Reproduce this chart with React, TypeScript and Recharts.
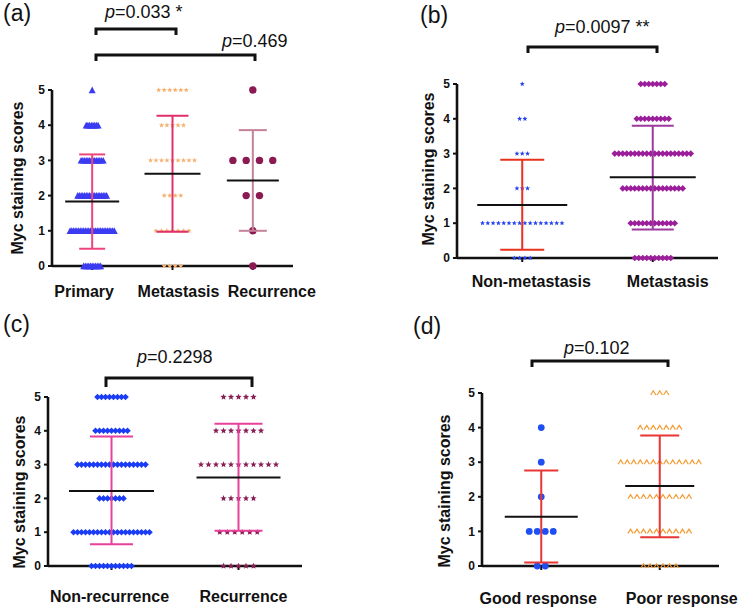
import React from 'react';
import { ScatterChart, Scatter, XAxis, YAxis, ReferenceLine } from 'recharts';

const FONT = "Arial, 'Liberation Sans', Helvetica, sans-serif";
const scoreTicks = [0, 1, 2, 3, 4, 5];

// (a) number of cases at score 0..5
const aCategories = ['Primary', 'Metastasis', 'Recurrence'];
const aPrimary = [11, 27, 18, 14, 8, 1];
const aMetastasis = [4, 7, 4, 9, 5, 6];
const aRecurrence = [1, 1, 2, 4, 0, 1];
const aMean = [1.83, 2.62, 2.43];
const aLow = [0.49, 0.97, 1.0];
const aHigh = [3.17, 4.27, 3.86];

// (b)
const bCategories = ['Non-metastasis', 'Metastasis'];
const bNonMetastasis = [4, 16, 3, 3, 2, 1];
const bMetastasis = [10, 12, 16, 20, 9, 7];
const bMean = [1.52, 2.32];
const bLow = [0.24, 0.82];
const bHigh = [2.82, 3.8];

// (c)
const cCategories = ['Non-recurrence', 'Recurrence'];
const cNonRecurrence = [11, 20, 7, 18, 9, 8];
const cRecurrence = [5, 6, 5, 11, 7, 5];
const cMean = [2.22, 2.62];
const cLow = [0.64, 1.04];
const cHigh = [3.83, 4.21];

// (d)
const dCategories = ['Good response', 'Poor response'];
const dGood = [2, 4, 1, 1, 1, 0];
const dPoor = [6, 10, 10, 13, 7, 3];
const dMean = [1.42, 2.31];
const dLow = [0.1, 0.83];
const dHigh = [2.76, 3.77];

const pValues = ['0.033 *', '0.469', '0.0097 **', '0.2298', '0.102'];

function starPath(cx: number, cy: number, r: number) {
  const pts: string[] = [];
  for (let k = 0; k < 10; k++) {
    const rr = k % 2 === 0 ? r : r * 0.45;
    const a = -Math.PI / 2 + (k * Math.PI) / 5;
    pts.push(`${(cx + rr * Math.cos(a)).toFixed(2)},${(cy + rr * Math.sin(a)).toFixed(2)}`);
  }
  return `M${pts.join('L')}Z`;
}

function makeShape(kind: string, color: string, size: number) {
  return (props: any) => {
    const { cx, cy } = props;
    if (cx == null || cy == null) return <g />;
    if (kind === 'triangle') {
      return <path d={`M${cx - size / 2},${cy + size / 2 - 0.3}L${cx},${cy - size / 2}L${cx + size / 2},${cy + size / 2 - 0.3}Z`} fill={color} />;
    }
    if (kind === 'star') return <path d={starPath(cx, cy, size)} fill={color} />;
    if (kind === 'diamond') {
      return <path d={`M${cx},${cy - size}L${cx + size},${cy}L${cx},${cy + size}L${cx - size},${cy}Z`} fill={color} />;
    }
    if (kind === 'caret') {
      return <path d={`M${cx - size},${cy + 2}L${cx},${cy - 2.2}L${cx + size},${cy + 2}`} fill="none" stroke={color} strokeWidth={1.2} />;
    }
    return <circle cx={cx} cy={cy} r={size} fill={color} />;
  };
}

// spread the cases of one score side by side around the group centre
function spread(counts: number[], group: number, stepPx: number, pxPerUnit: number) {
  const pts: { x: number; y: number }[] = [];
  counts.forEach((n, score) => {
    for (let i = 0; i < n; i++) {
      pts.push({ x: group + ((i - (n - 1) / 2) * stepPx) / pxPerUnit, y: score });
    }
  });
  return pts;
}

const panels = [
  {
    left: 0, top: 0, width: 370, height: 300, yAxisWidth: 52,
    margin: { top: 90, right: 77, bottom: 4, left: 0 },
    categories: aCategories, labelDy: 25, labelShift: [-8, 6, 19], yLabel: [17, 178],
    groups: [
      { counts: aPrimary, kind: 'triangle', color: '#3b3bf2', size: 7, step: 1.7, errColor: '#f0457c', meanHalf: 27, capHalf: 13 },
      { counts: aMetastasis, kind: 'star', color: '#f7b272', size: 2.7, step: 5.5, errColor: '#e0306a', meanHalf: 28, capHalf: 16 },
      { counts: aRecurrence, kind: 'circle', color: '#8c1a52', size: 3.7, step: 13.3, errColor: '#c4819a', meanHalf: 26, capHalf: 14 },
    ],
    mean: aMean, low: aLow, high: aHigh,
  },
  {
    left: 370, top: 0, width: 371, height: 300, yAxisWidth: 87,
    margin: { top: 84, right: 23, bottom: 12, left: 0 },
    categories: bCategories, labelDy: 23, labelShift: [9, 15], yLabel: [58, 169],
    groups: [
      { counts: bNonMetastasis, kind: 'star', color: '#2444ee', size: 2.6, step: 5.3, errColor: '#e8321e', meanHalf: 45, capHalf: 22 },
      { counts: bMetastasis, kind: 'diamond', color: '#9b1f9b', size: 3.3, step: 4, errColor: '#9d3a9d', meanHalf: 43, capHalf: 21 },
    ],
    mean: bMean, low: bLow, high: bHigh,
  },
  {
    left: 0, top: 300, width: 370, height: 313, yAxisWidth: 48,
    margin: { top: 97, right: 68, bottom: 17, left: 0 },
    categories: cCategories, labelDy: 30, labelShift: [-2, 5], yLabel: [19, 192],
    groups: [
      { counts: cNonRecurrence, kind: 'diamond', color: '#1a3cf5', size: 3.3, step: 4, errColor: '#e8419b', meanHalf: 42.5, capHalf: 21.5 },
      { counts: cRecurrence, kind: 'star', color: '#8a1f56', size: 3.3, step: 7.5, errColor: '#e8419b', meanHalf: 42, capHalf: 24 },
    ],
    mean: cMean, low: cLow, high: cHigh,
  },
  {
    left: 370, top: 300, width: 371, height: 313, yAxisWidth: 112,
    margin: { top: 93, right: 22, bottom: 17, left: 0 },
    categories: dCategories, labelDy: 32, labelShift: [-3, 22], yLabel: [74, 191],
    groups: [
      { counts: dGood, kind: 'circle', color: '#1f4ff2', size: 3.4, step: 8, errColor: '#e83535', meanHalf: 36.5, capHalf: 17 },
      { counts: dPoor, kind: 'caret', color: '#f59a30', size: 2.6, step: 6.5, errColor: '#e83535', meanHalf: 34.5, capHalf: 19.5 },
    ],
    mean: dMean, low: dLow, high: dHigh,
  },
];

function Panel({ p }: { p: any }) {
  const plotW = p.width - p.margin.left - p.yAxisWidth - p.margin.right;
  const ppu = plotW / p.categories.length;
  const catTicks = p.categories.map((_: string, i: number) => i + 1);

  const CatTick = (props: any) => {
    const { x, y, payload, index } = props;
    return (
      <text x={x + (p.labelShift[index] || 0)} y={y + p.labelDy} textAnchor="middle"
        fontSize={16} fontWeight="bold" fontFamily={FONT} fill="#111">
        {p.categories[payload.value - 1]}
      </text>
    );
  };

  const yLabel = () => (
    <text x={p.yLabel[0]} y={p.yLabel[1]} dy="0.36em" textAnchor="middle" fontSize={16} fontWeight="bold"
      fontFamily={FONT} fill="#111" transform={`rotate(-90, ${p.yLabel[0]}, ${p.yLabel[1]})`}>
      Myc staining scores
    </text>
  );

  return (
    <div style={{ position: 'absolute', left: p.left, top: p.top }}>
      <ScatterChart width={p.width} height={p.height} margin={p.margin}>
        <XAxis type="number" dataKey="x" domain={[0.5, p.categories.length + 0.5]} ticks={catTicks}
          allowDataOverflow height={30} tick={<CatTick />} tickSize={4} tickMargin={2}
          axisLine={{ stroke: '#111', strokeWidth: 2.6 }} tickLine={{ stroke: '#111', strokeWidth: 2 }} />
        <YAxis type="number" dataKey="y" domain={[0, 5]} ticks={scoreTicks} interval={0} width={p.yAxisWidth}
          tickSize={4} tickMargin={3} label={yLabel}
          tick={{ fontSize: 12, fontWeight: 'bold', fill: '#111', fontFamily: FONT }}
          axisLine={{ stroke: '#111', strokeWidth: 2.6 }} tickLine={{ stroke: '#111', strokeWidth: 2 }} />
        {p.groups.map((g: any, gi: number) => (
          <Scatter key={`s${gi}`} data={spread(g.counts, gi + 1, g.step, ppu)}
            shape={makeShape(g.kind, g.color, g.size)} isAnimationActive={false} />
        ))}
        {p.groups.map((g: any, gi: number) => {
          const c = gi + 1;
          const cap = g.capHalf / ppu;
          const half = g.meanHalf / ppu;
          return (
            <React.Fragment key={`e${gi}`}>
              <ReferenceLine segment={[{ x: c, y: p.low[gi] }, { x: c, y: p.high[gi] }]} stroke={g.errColor} strokeWidth={2} zIndex={700} />
              <ReferenceLine segment={[{ x: c - cap, y: p.low[gi] }, { x: c + cap, y: p.low[gi] }]} stroke={g.errColor} strokeWidth={2} zIndex={700} />
              <ReferenceLine segment={[{ x: c - cap, y: p.high[gi] }, { x: c + cap, y: p.high[gi] }]} stroke={g.errColor} strokeWidth={2} zIndex={700} />
              <ReferenceLine segment={[{ x: c - half, y: p.mean[gi] }, { x: c + half, y: p.mean[gi] }]} stroke="#111" strokeWidth={2} zIndex={700} />
            </React.Fragment>
          );
        })}
      </ScatterChart>
    </div>
  );
}

const brackets = [
  { x1: 96, x2: 176, top: 29, tip: 35 },
  { x1: 96, x2: 255, top: 55, tip: 61 },
  { x1: 528, x2: 657, top: 47, tip: 53 },
  { x1: 106, x2: 252, top: 378, tip: 387 },
  { x1: 532, x2: 668, top: 361, tip: 367 },
];
const pPos = [[105, 18], [222, 47], [555, 33], [137, 363], [564, 354]];
const letters = [['(a)', 3, 21], ['(b)', 420, 23], ['(c)', 3, 332], ['(d)', 413, 334]];

export default function App() {
  return (
    <div style={{ position: 'absolute', left: 0, top: 0, width: 741, height: 613, background: '#fff', overflow: 'hidden' }}>
      {panels.map((p, i) => <Panel key={i} p={p} />)}
      <svg width={741} height={613} style={{ position: 'absolute', left: 0, top: 0, pointerEvents: 'none' }}>
        {brackets.map((b, i) => (
          <path key={i} d={`M${b.x1},${b.tip}L${b.x1},${b.top}L${b.x2},${b.top}L${b.x2},${b.tip}`}
            fill="none" stroke="#111" strokeWidth={3} />
        ))}
        {pValues.map((v, i) => (
          <text key={i} x={pPos[i][0]} y={pPos[i][1]} fontSize={18} fontFamily={FONT} fill="#111">
            <tspan fontStyle="italic">p</tspan>={v}
          </text>
        ))}
        {letters.map(([t, x, y]) => (
          <text key={t as string} x={x as number} y={y as number} fontSize={23} fontFamily={FONT} fill="#111">{t}</text>
        ))}
      </svg>
    </div>
  );
}
